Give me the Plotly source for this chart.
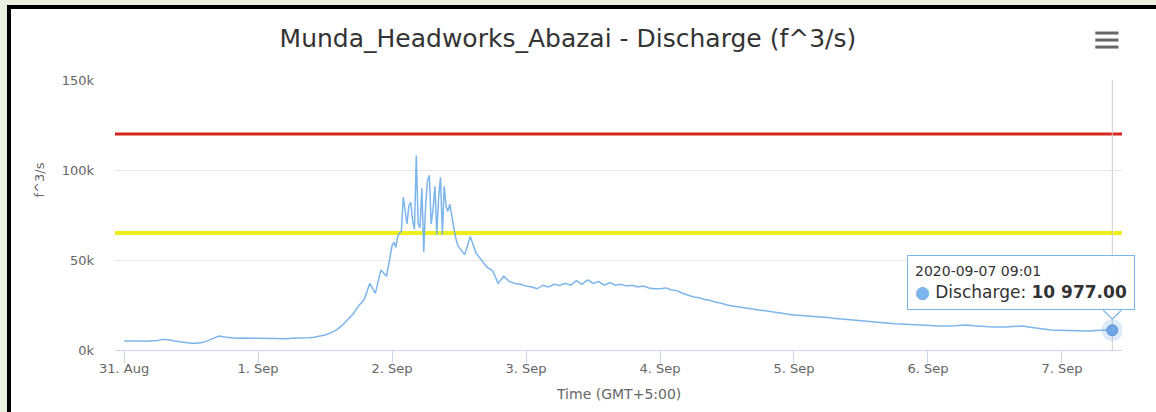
import pandas as pd
import plotly.graph_objects as go

# ---------------- data ----------------
# hourly readings (HH:01) 31 Aug 00:01 .. 1 Sep 23:01
vals_a = [
    5000, 5100, 4900, 5000, 4800, 4900, 5300, 5900, 5700, 5000, 4600, 3900,
    3700, 3800, 4100, 5200, 6600, 7700, 7200, 6700, 6500, 6600, 6400, 6500,
    6500, 6400, 6500, 6300, 6400, 6300, 6500, 6500, 6700, 6800, 7100, 7500,
    8300, 9500, 11000, 13500, 16500, 20000, 24500, 28000, 37000, 31500, 44500, 41000,
]
# 20-minute readings 2 Sep 00:01 .. 2 Sep 11:41 (flood peak)
vals_b = [
    58000, 60000, 57000, 63000, 65000, 66000, 85000, 77000, 70000, 80000, 82000, 72000,
    67000, 108000, 70000, 68000, 90000, 54500, 80000, 94000, 97000, 70000, 78000, 91000,
    64000, 85000, 96000, 64000, 91000, 80000, 77000, 81000, 75000, 68000, 63000, 59000,
]
# hourly readings 2 Sep 12:01 .. 7 Sep 09:01
vals_c = [
    57000, 53000, 63000, 54000, 50000, 46000, 44000, 37000, 41000, 38000, 37000, 36500,
    35500, 35000, 34000, 36000, 35000, 36500, 35800, 37000, 36000, 38500, 36500, 39000,
    37000, 38000, 36000, 37500, 36000, 36500, 35500, 36000, 35000, 35500, 34500, 34000,
    34000, 34500, 33500, 33000, 31500, 30500, 29500, 29000, 28000, 27500, 26500, 26000,
    25000, 24500, 24000, 23500, 23000, 22500, 22000, 21500, 21000, 20500, 20000, 19800,
    19500, 19300, 19000, 18700, 18500, 18200, 18000, 17600, 17300, 17000, 16700, 16400,
    16000, 15700, 15500, 15300, 15000, 14800, 14600, 14400, 14200, 14000, 13900, 13800,
    13600, 13500, 13400, 13300, 13300, 13500, 13800, 13900, 13500, 13200, 13000, 12900,
    12800, 12700, 12800, 13000, 13200, 13300, 12800, 12300, 11800, 11400, 11100, 11000,
    10900, 10800, 10700, 10600, 10500, 10600, 10800, 11000, 11100, 10977,
]
times_a = pd.date_range("2020-08-31 00:01", periods=len(vals_a), freq="60min")
times_b = pd.date_range("2020-09-02 00:01", periods=len(vals_b), freq="20min")
times_c = pd.date_range("2020-09-02 12:01", periods=len(vals_c), freq="60min")
times = list(times_a) + list(times_b) + list(times_c)
values = vals_a + vals_b + vals_c

danger_level = 120000
alert_level = 65000

tick_days = ["2020-08-31", "2020-09-01", "2020-09-02", "2020-09-03",
             "2020-09-04", "2020-09-05", "2020-09-06", "2020-09-07"]
tick_labels = ["31. Aug", "1. Sep", "2. Sep", "3. Sep", "4. Sep", "5. Sep", "6. Sep", "7. Sep"]
y_ticks = [0, 50000, 100000, 150000]
y_tick_labels = ["0k", "50k", "100k", "150k"]

last_t = times[-1]
last_v = values[-1]

# ---------------- figure ----------------
FONT = "DejaVu Sans"
SERIES = "#7cb5ec"
BG = "#edf1e1"

fig = go.Figure()
fig.add_trace(go.Scatter(x=times, y=values, mode="lines", name="Discharge",
                         line=dict(color=SERIES, width=1.5), hoverinfo="skip"))
# hovered point with halo
fig.add_trace(go.Scatter(x=[last_t], y=[last_v], mode="markers",
                         marker=dict(size=22, color="rgba(124,181,236,0.25)"),
                         hoverinfo="skip"))
fig.add_trace(go.Scatter(x=[last_t], y=[last_v], mode="markers",
                         marker=dict(size=11, color="#6fa6e6",
                                     line=dict(color="#5b93d6", width=1)),
                         hoverinfo="skip"))

shapes = []
# white card with black border (photo frame)
shapes.append(dict(type="rect", xref="paper", yref="paper", layer="below",
                   x0=-0.1053, x1=1.06, y0=-0.3, y1=1.2704,
                   fillcolor="white", line=dict(color="black", width=4)))
# threshold lines
shapes.append(dict(type="line", xref="paper", yref="y", x0=0, x1=1,
                   y0=danger_level, y1=danger_level, layer="below",
                   line=dict(color="#d7261e", width=3)))
shapes.append(dict(type="line", xref="paper", yref="y", x0=0, x1=1,
                   y0=alert_level, y1=alert_level, layer="below",
                   line=dict(color="#eeee1c", width=4)))
# crosshair
shapes.append(dict(type="line", xref="x", yref="paper", x0=last_t, x1=last_t,
                   y0=0, y1=1, layer="below", line=dict(color="#cccccc", width=1)))
# hamburger menu icon
for yy in (1.174, 1.148, 1.122):
    shapes.append(dict(type="line", xref="paper", yref="paper", x0=0.9735, x1=0.9965,
                       y0=yy, y1=yy, line=dict(color="#666666", width=3)))
# tooltip pointer
shapes.append(dict(type="path", xref="x", yref="y", xsizemode="pixel", ysizemode="pixel",
                   xanchor=last_t, yanchor=last_v,
                   path="M -9,21 L 0,12 L 9,21 Z", fillcolor="white",
                   line=dict(width=0)))
shapes.append(dict(type="path", xref="x", yref="y", xsizemode="pixel", ysizemode="pixel",
                   xanchor=last_t, yanchor=last_v,
                   path="M -9,20 L 0,11 L 9,20", line=dict(color=SERIES, width=1.2)))

annotations = [
    dict(text="f^3/s", xref="paper", yref="paper", x=-0.0844, y=0.63,
         textangle=-90, showarrow=False, font=dict(family=FONT, size=13, color="#666666")),
    dict(text="Time (GMT+5:00)", xref="paper", yref="paper", x=0.5, y=-0.2,
         showarrow=False, font=dict(family=FONT, size=14, color="#666666")),
    dict(text="<span style='font-size:14px'>2020-09-07 09:01</span><br>"
              "<span style='color:#7cb5ec'>●</span> Discharge: <b>10 977.00</b>",
         xref="x", yref="y", x=last_t, y=last_v, showarrow=False,
         xanchor="right", yanchor="bottom", xshift=23, yshift=20, align="left",
         bgcolor="rgba(255,255,255,0.92)", bordercolor=SERIES, borderwidth=1, borderpad=7,
         font=dict(family=FONT, size=17, color="#333333")),
]

fig.update_layout(
    width=1156, height=412, autosize=False,
    margin=dict(l=115, r=34, t=80, b=62),
    paper_bgcolor=BG, plot_bgcolor="rgba(0,0,0,0)",
    showlegend=False,
    title=dict(text="Munda_Headworks_Abazai - Discharge (f^3/s)",
               x=0.4913, xref="container", xanchor="center",
               y=1 - 38 / 412, yref="container", yanchor="middle",
               font=dict(family=FONT, size=25, color="#333333")),
    shapes=shapes, annotations=annotations,
    xaxis=dict(type="date", range=["2020-08-30 22:23", "2020-09-07 10:45"],
               tickvals=tick_days, ticktext=tick_labels,
               showgrid=False, zeroline=False,
               showline=True, linecolor="#ccd6eb", linewidth=1,
               ticks="outside", ticklen=12, tickcolor="#ccd6eb", tickwidth=1,
               ticklabelstandoff=-6,
               tickfont=dict(family=FONT, size=13, color="#666666")),
    yaxis=dict(range=[0, 150000], tickvals=y_ticks, ticktext=y_tick_labels,
               showgrid=True, gridcolor="#e6e6e6", gridwidth=1, zeroline=False,
               showline=False, ticks="", ticklabelstandoff=20,
               tickfont=dict(family=FONT, size=13, color="#666666")),
)

fig.write_html("out.html", config={"displayModeBar": False},
               post_script="document.body.style.margin='0';"
                           "document.body.style.background='" + BG + "';")
